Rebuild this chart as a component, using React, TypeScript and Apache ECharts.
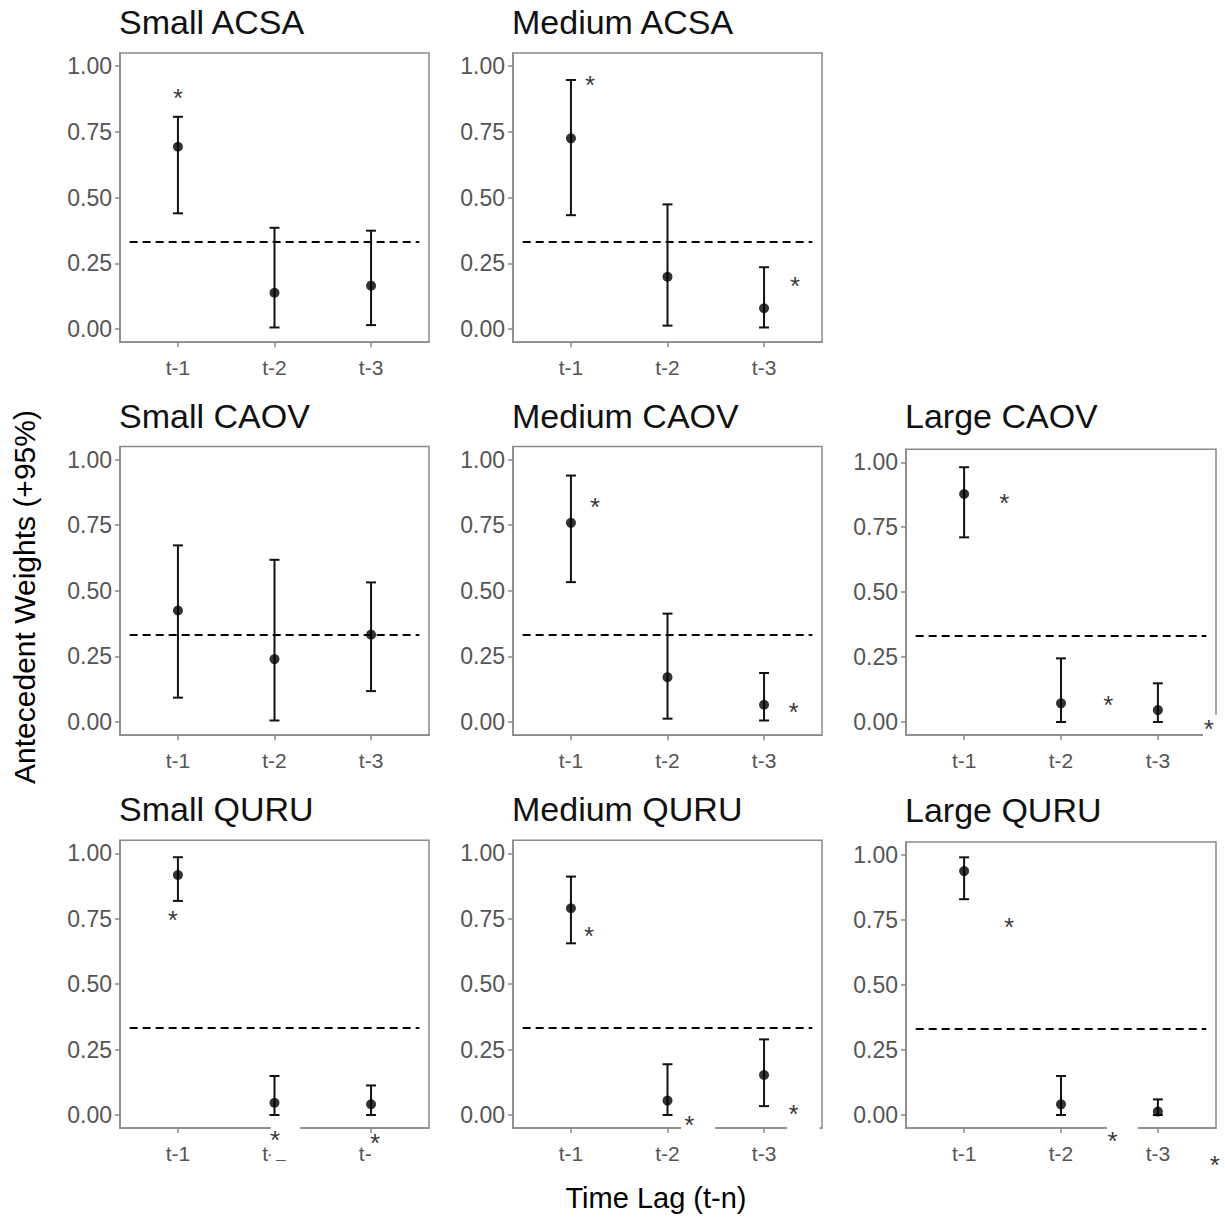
import React, { useEffect, useRef } from "react";
import * as echarts from "echarts";

// ---------- data ----------
const lags = ["t-1", "t-2", "t-3"];
const lagPositions = [1, 2, 3];
const yTicks = [0, 0.25, 0.5, 0.75, 1];
const referenceWeight = 1 / 3;

const panelTitles = [
  "Small ACSA",
  "Medium ACSA",
  "Small CAOV",
  "Medium CAOV",
  "Large CAOV",
  "Small QURU",
  "Medium QURU",
  "Large QURU",
];

const smallAcsaMean = [0.693, 0.138, 0.165];
const smallAcsaLower = [0.44, 0.006, 0.015];
const smallAcsaUpper = [0.807, 0.385, 0.374];

const mediumAcsaMean = [0.725, 0.199, 0.079];
const mediumAcsaLower = [0.433, 0.013, 0.006];
const mediumAcsaUpper = [0.947, 0.474, 0.235];

const smallCaovMean = [0.425, 0.24, 0.333];
const smallCaovLower = [0.093, 0.006, 0.118];
const smallCaovUpper = [0.673, 0.618, 0.532];

const mediumCaovMean = [0.759, 0.171, 0.066];
const mediumCaovLower = [0.533, 0.013, 0.006];
const mediumCaovUpper = [0.939, 0.413, 0.187];

const largeCaovMean = [0.878, 0.072, 0.046];
const largeCaovLower = [0.711, 0.0, 0.0];
const largeCaovUpper = [0.981, 0.245, 0.149];

const smallQuruMean = [0.917, 0.047, 0.041];
const smallQuruLower = [0.818, 0.0, 0.0];
const smallQuruUpper = [0.985, 0.149, 0.113];

const mediumQuruMean = [0.79, 0.055, 0.153];
const mediumQuruLower = [0.656, 0.0, 0.034];
const mediumQuruUpper = [0.911, 0.194, 0.289];

const largeQuruMean = [0.938, 0.041, 0.013];
const largeQuruLower = [0.83, 0.0, 0.0];
const largeQuruUpper = [0.991, 0.15, 0.06];

// significance asterisks, [lag position, weight]
const smallAcsaStars = [[1.0, 0.886]];
const mediumAcsaStars = [[1.198, 0.935], [3.322, 0.171]];
const smallCaovStars: number[][] = [];
const mediumCaovStars = [[1.25, 0.826], [3.305, 0.046]];
const largeCaovStars = [[1.414, 0.85], [2.488, 0.072], [3.527, -0.02]];
const smallQuruStars = [[0.946, 0.754], [2.006, -0.087], [3.042, -0.099]];
const mediumQuruStars = [[1.188, 0.692], [2.227, -0.032], [3.305, 0.013]];
const largeQuruStars = [[1.463, 0.731], [2.533, -0.093], [3.589, -0.186]];

// white patches behind pasted asterisks, [x0, x1, yLow, yHigh]
const smallQuruPatches = [[1.962, 2.265, -0.172, -0.042], [3.015, 3.2, -0.19, -0.06]];
const mediumQuruPatches = [[2.141, 2.493, -0.096, -0.034], [3.239, 3.576, -0.096, -0.034]];
const largeQuruPatches = [[2.474, 2.794, -0.115, -0.035]];
const largeCaovPatches = [[3.465, 3.7, -0.09, 0.027]];

// ---------- layout ----------
const panelLayout = [
  { left: 120, top: 52.9, width: 309, height: 289.3, titleTop: 5 },
  { left: 513, top: 52.9, width: 309, height: 289.3, titleTop: 5 },
  { left: 120, top: 446.4, width: 309, height: 288.8, titleTop: 398.5 },
  { left: 513, top: 446.4, width: 309, height: 288.8, titleTop: 398.5 },
  { left: 906, top: 449.3, width: 310, height: 285.7, titleTop: 399 },
  { left: 120, top: 840.2, width: 309, height: 287.9, titleTop: 792 },
  { left: 513, top: 840.2, width: 309, height: 287.9, titleTop: 792 },
  { left: 906, top: 842, width: 310, height: 286, titleTop: 793 },
];

const FONT = "'Liberation Sans', Arial, Helvetica, sans-serif";

const panels = [
  { mean: smallAcsaMean, lower: smallAcsaLower, upper: smallAcsaUpper, stars: smallAcsaStars, patches: [] as number[][] },
  { mean: mediumAcsaMean, lower: mediumAcsaLower, upper: mediumAcsaUpper, stars: mediumAcsaStars, patches: [] as number[][] },
  { mean: smallCaovMean, lower: smallCaovLower, upper: smallCaovUpper, stars: smallCaovStars, patches: [] as number[][] },
  { mean: mediumCaovMean, lower: mediumCaovLower, upper: mediumCaovUpper, stars: mediumCaovStars, patches: [] as number[][] },
  { mean: largeCaovMean, lower: largeCaovLower, upper: largeCaovUpper, stars: largeCaovStars, patches: largeCaovPatches },
  { mean: smallQuruMean, lower: smallQuruLower, upper: smallQuruUpper, stars: smallQuruStars, patches: smallQuruPatches },
  { mean: mediumQuruMean, lower: mediumQuruLower, upper: mediumQuruUpper, stars: mediumQuruStars, patches: mediumQuruPatches },
  { mean: largeQuruMean, lower: largeQuruLower, upper: largeQuruUpper, stars: largeQuruStars, patches: largeQuruPatches },
];

function buildOption() {
  const grid: any[] = [];
  const xAxis: any[] = [];
  const yAxis: any[] = [];
  const series: any[] = [];
  const title: any[] = [];

  panels.forEach((p, i) => {
    const L = panelLayout[i];
    grid.push({
      left: L.left,
      top: L.top,
      width: L.width,
      height: L.height,
      show: true,
      borderColor: "#8a8a8a",
      borderWidth: 1.5,
      backgroundColor: "transparent",
      containLabel: false,
    });
    title.push({
      text: panelTitles[i],
      left: L.left - 1,
      top: L.titleTop,
      padding: 0,
      textStyle: { fontSize: 34, fontWeight: "normal", color: "#111", fontFamily: FONT },
    });
    xAxis.push({
      type: "value",
      gridIndex: i,
      min: 0.4,
      max: 3.6,
      position: "bottom",
      splitLine: { show: false },
      axisLine: { show: true, onZero: false, lineStyle: { color: "#8a8a8a", width: 1.5 } },
      axisTick: { show: true, customValues: lagPositions, length: 5, lineStyle: { color: "#8a8a8a", width: 1.5 } },
      axisLabel: {
        customValues: lagPositions,
        formatter: (v: number) => lags[Math.round(v) - 1] ?? "",
        fontSize: 21,
        color: "#555",
        margin: 15,
        fontFamily: FONT,
      },
    });
    yAxis.push({
      type: "value",
      gridIndex: i,
      min: -0.05,
      max: 1.05,
      splitLine: { show: false },
      axisLine: { show: true, onZero: false, lineStyle: { color: "#8a8a8a", width: 1.5 } },
      axisTick: { show: true, customValues: yTicks, length: 5, lineStyle: { color: "#8a8a8a", width: 1.5 } },
      axisLabel: {
        customValues: yTicks,
        formatter: (v: number) => v.toFixed(2),
        fontSize: 23,
        color: "#555",
        margin: 8,
        fontFamily: FONT,
      },
    });

    series.push({
      type: "custom",
      xAxisIndex: i,
      yAxisIndex: i,
      clip: false,
      z: 3,
      encode: { x: 0, y: [1, 2] },
      data: lagPositions.map((x, j) => [x, p.lower[j], p.upper[j]]),
      renderItem: (params: any, api: any) => {
        const x = api.value(0);
        const lo = api.coord([x, api.value(1)]);
        const hi = api.coord([x, api.value(2)]);
        const hw = 5;
        const style = { stroke: "#111", lineWidth: 2, fill: null };
        return {
          type: "group",
          children: [
            { type: "line", shape: { x1: lo[0], y1: lo[1], x2: hi[0], y2: hi[1] }, style },
            { type: "line", shape: { x1: lo[0] - hw, y1: lo[1], x2: lo[0] + hw, y2: lo[1] }, style },
            { type: "line", shape: { x1: hi[0] - hw, y1: hi[1], x2: hi[0] + hw, y2: hi[1] }, style },
          ],
        };
      },
    });

    series.push({
      type: "scatter",
      xAxisIndex: i,
      yAxisIndex: i,
      z: 4,
      symbol: "circle",
      symbolSize: 10,
      itemStyle: { color: "#000" },
      data: lagPositions.map((x, j) => [x, p.mean[j]]),
      markLine: {
        silent: true,
        symbol: "none",
        label: { show: false },
        lineStyle: { color: "#000", width: 1.8, type: [8, 5] },
        data: [[{ coord: [0.5, referenceWeight] }, { coord: [3.5, referenceWeight] }]],
      },
    });

    if (p.patches.length) {
      series.push({
        type: "custom",
        xAxisIndex: i,
        yAxisIndex: i,
        clip: false,
        z: 10,
        silent: true,
        data: p.patches,
        renderItem: (params: any, api: any) => {
          const a = api.coord([api.value(0), api.value(3)]);
          const b = api.coord([api.value(1), api.value(2)]);
          return {
            type: "rect",
            shape: { x: a[0], y: a[1], width: b[0] - a[0], height: b[1] - a[1] },
            style: { fill: "#ffffff" },
          };
        },
      });
    }

    if (p.stars.length) {
      series.push({
        type: "scatter",
        xAxisIndex: i,
        yAxisIndex: i,
        z: 12,
        clip: false,
        symbol: "circle",
        symbolSize: 0.1,
        itemStyle: { color: "rgba(0,0,0,0)" },
        silent: true,
        data: p.stars,
        label: {
          show: true,
          position: "inside",
          formatter: "*",
          fontSize: 26,
          color: "#000",
          offset: [0, 2],
          fontFamily: FONT,
        },
      });
    }
  });

  return {
    animation: false,
    backgroundColor: "#ffffff",
    title,
    grid,
    xAxis,
    yAxis,
    series,
    graphic: [
      {
        type: "text",
        x: 24,
        y: 597,
        rotation: Math.PI / 2,
        style: {
          text: "Antecedent Weights (+95%)",
          fontSize: 30,
          fontFamily: FONT,
          fill: "#000",
          align: "center",
          verticalAlign: "middle",
        },
      },
      {
        type: "text",
        x: 656,
        y: 1198,
        style: {
          text: "Time Lag (t-n)",
          fontSize: 29,
          fontFamily: FONT,
          fill: "#000",
          align: "center",
          verticalAlign: "middle",
        },
      },
    ],
  };
}

export default function App() {
  const ref = useRef<HTMLDivElement>(null);
  useEffect(() => {
    if (!ref.current) return;
    const chart = echarts.init(ref.current, undefined, { renderer: "svg" });
    chart.setOption(buildOption() as any);
    return () => chart.dispose();
  }, []);
  return (
    <div
      ref={ref}
      style={{ position: "fixed", left: 0, top: 0, width: 1225, height: 1218, background: "#fff" }}
    />
  );
}
